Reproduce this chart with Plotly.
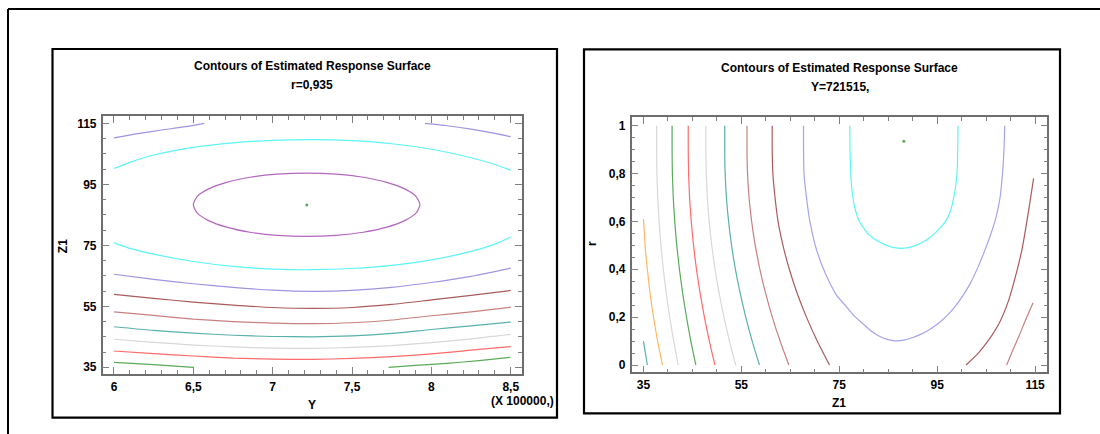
import plotly.graph_objects as go

# ---------------- data ----------------
# Left panel: Y (x 100000) vs Z1 at r = 0.935
left_x_ticks = [6.0, 6.5, 7.0, 7.5, 8.0, 8.5]
left_x_ticktext = ["6", "6,5", "7", "7,5", "8", "8,5"]
left_y_ticks = [35, 55, 75, 95, 115]
left_y_ticktext = ["35", "55", "75", "95", "115"]

left_grid = [6.0, 6.25, 6.5, 6.75, 7.0, 7.25, 7.5, 7.75, 8.0, 8.25, 8.5]
cyan_grid = [6.0, 6.1, 6.25, 6.5, 6.75, 7.0, 7.25, 7.5, 7.75, 8.0, 8.25, 8.4, 8.5]

lav_top_l_y = [6.0, 6.15, 6.3, 6.45, 6.57]
lav_top_l_z = [110.2, 111.6, 112.8, 113.9, 115.0]
lav_top_r_y = [7.96, 8.1, 8.25, 8.4, 8.5]
lav_top_r_z = [115.0, 114.2, 113.1, 111.7, 110.6]
cyan_top_z = [100.2, 102.2, 104.6, 107.1, 108.6, 109.4, 109.65, 109.3, 108.3, 106.5, 103.7, 101.5, 99.6]
cyan_low_z = [75.8, 74.0, 72.1, 69.7, 68.1, 67.2, 67.0, 67.4, 68.4, 70.2, 73.0, 75.4, 77.7]
ellipse_y = [7.928, 7.904, 7.832, 7.719, 7.571, 7.399, 7.214, 7.029, 6.857, 6.709, 6.596, 6.524, 6.500,
             6.524, 6.596, 6.709, 6.857, 7.029, 7.214, 7.399, 7.571, 7.719, 7.832, 7.904, 7.928]
ellipse_z = [88.3, 90.99, 93.5, 95.65, 97.31, 98.35, 98.7, 98.35, 97.31, 95.65, 93.5, 90.99, 88.3,
             85.61, 83.1, 80.95, 79.29, 78.25, 77.9, 78.25, 79.29, 80.95, 83.1, 85.61, 88.3]
lav_low_z = [65.5, 63.8, 62.4, 61.2, 60.3, 59.9, 60.2, 61.2, 62.8, 64.8, 67.5]
brown_low_z = [58.9, 57.6, 56.4, 55.4, 54.6, 54.3, 54.6, 55.6, 57.1, 58.6, 60.2]
rosy_low_z = [53.2, 52.0, 50.8, 50.0, 49.5, 49.3, 49.6, 50.5, 51.9, 53.2, 54.7]
teal_low_z = [48.3, 47.1, 46.2, 45.5, 45.1, 45.0, 45.3, 46.1, 47.4, 48.6, 49.8]
gray_low_z = [44.2, 43.2, 42.3, 41.7, 41.3, 41.2, 41.5, 42.1, 43.1, 44.3, 45.8]
red_low_z = [40.35, 39.5, 38.7, 38.0, 37.7, 37.6, 37.9, 38.5, 39.4, 40.6, 41.8]
green_l_y = [6.0, 6.25, 6.5]
green_l_z = [36.6, 35.9, 35.0]
green_r_y = [7.73, 7.9, 8.1, 8.3, 8.5]
green_r_z = [35.0, 35.6, 36.3, 37.2, 38.3]
left_opt_y = [7.215]
left_opt_z = [88.2]

# Right panel: Z1 vs r at Y = 721515
right_x_ticks = [35, 55, 75, 95, 115]
right_x_ticktext = ["35", "55", "75", "95", "115"]
right_y_ticks = [0, 0.2, 0.4, 0.6, 0.8, 1.0]
right_y_ticktext = ["0", "0,2", "0,4", "0,6", "0,8", "1"]

r_grid = [1.0, 0.9, 0.8, 0.7, 0.6, 0.5, 0.4, 0.3, 0.2, 0.1, 0.0]
gray1_z = [37.7, 37.7, 37.75, 37.92, 38.19, 38.57, 39.06, 39.66, 40.36, 41.18, 42.1]
green_z = [40.85, 40.85, 40.91, 41.09, 41.39, 41.81, 42.35, 43.01, 43.79, 44.68, 45.7]
red_z = [44.15, 44.15, 44.22, 44.42, 44.76, 45.23, 45.83, 46.57, 47.45, 48.46, 49.6]
gray2_z = [47.75, 47.75, 47.83, 48.05, 48.43, 48.95, 49.63, 50.46, 51.44, 52.57, 53.85]
teal_z = [51.6, 51.6, 51.69, 51.95, 52.39, 53.0, 53.79, 54.76, 55.9, 57.21, 58.7]
rosy_z = [56.15, 56.15, 56.26, 56.57, 57.1, 57.84, 58.79, 59.95, 61.32, 62.91, 64.7]
brown_z = [61.3, 61.3, 61.44, 61.88, 62.5, 63.5, 64.8, 66.4, 68.3, 70.5, 73.0]
lav_u_z = [67.7, 67.7, 67.8, 68.3, 69.0, 70.1, 71.4, 72.9, 74.5, 76.4, 78.0, 79.75, 81.5, 83.1, 84.8,
           86.5, 88.2, 89.9, 91.6, 93.3, 95.0, 96.7, 98.4, 100.1, 101.75, 103.36, 104.76, 105.84,
           106.8, 107.4, 107.85, 108.35, 108.65, 108.8]
lav_u_r = [1.0, 0.9, 0.8, 0.7, 0.6, 0.5, 0.42, 0.35, 0.29, 0.245, 0.206, 0.174, 0.142, 0.121, 0.107,
           0.101, 0.104, 0.114, 0.128, 0.146, 0.17, 0.2, 0.238, 0.285, 0.34, 0.41, 0.48, 0.54,
           0.6, 0.65, 0.7, 0.8, 0.9, 1.0]
cyan_u_z = [77.15, 77.2, 77.35, 77.5, 77.8, 78.15, 78.55, 79.1, 79.9, 80.79, 81.99, 83.11, 84.25,
            85.3, 86.2, 87.65,
            89.1, 90.0, 91.05, 92.19, 93.31, 94.51, 95.7, 96.7, 97.45, 97.95, 98.4, 98.8, 99.05,
            99.2, 99.25]
cyan_u_r = [1.0, 0.9, 0.8, 0.75, 0.7, 0.66, 0.63, 0.6, 0.575, 0.55, 0.53, 0.515, 0.503,
            0.495, 0.4905, 0.4877,
            0.4905, 0.495, 0.503, 0.515, 0.53, 0.55, 0.575, 0.6, 0.63, 0.66, 0.7, 0.75, 0.8,
            0.9, 1.0]
brown_right_z = [114.7, 113.8, 112.3, 111.0, 109.6, 107.8, 105.5, 103.4, 100.9]
brown_right_r = [0.78, 0.66, 0.48, 0.37, 0.27, 0.18, 0.104, 0.05, 0.0]
rosy_right_z = [114.6, 113.1, 111.7, 110.4, 109.2]
rosy_right_r = [0.26, 0.19, 0.12, 0.06, 0.0]
orange_z = [35.0, 35.2, 35.4, 35.8, 36.35, 37.05, 37.9, 38.9]
orange_r = [0.61, 0.55, 0.48, 0.4, 0.3, 0.2, 0.1, 0.0]
teal_short_z = [35.0, 35.8]
teal_short_r = [0.1, 0.0]
right_opt_z = [88.2]
right_opt_r = [0.935]

# ---------------- styling ----------------
C_LAV = "#a093e0"
C_LAV2 = "#a3a3ee"
C_CYAN = "#5cf5f5"
C_PURPLE = "#b466c0"
C_BROWN = "#ab5a5a"
C_ROSY = "#c88080"
C_TEAL = "#5ab0aa"
C_GRAY = "#d8d8d8"
C_RED = "#ff6a6a"
C_GREEN = "#5aaa5a"
C_ORANGE = "#ffb766"

FONT = "Liberation Sans, Arial, sans-serif"
W, H = 1100, 434

fig = go.Figure()


def add_line(x, y, color, xa="x", ya="y"):
    fig.add_trace(go.Scatter(x=x, y=y, mode="lines", xaxis=xa, yaxis=ya,
                             line=dict(color=color, width=1.2, shape="spline", smoothing=0.6),
                             hoverinfo="skip", showlegend=False))


# left panel
add_line(lav_top_l_y, lav_top_l_z, C_LAV)
add_line(lav_top_r_y, lav_top_r_z, C_LAV)
add_line(cyan_grid, cyan_top_z, C_CYAN)
add_line(ellipse_y, ellipse_z, C_PURPLE)
add_line(cyan_grid, cyan_low_z, C_CYAN)
add_line(left_grid, lav_low_z, C_LAV)
add_line(left_grid, brown_low_z, C_BROWN)
add_line(left_grid, rosy_low_z, C_ROSY)
add_line(left_grid, teal_low_z, C_TEAL)
add_line(left_grid, gray_low_z, C_GRAY)
add_line(left_grid, red_low_z, C_RED)
add_line(green_l_y, green_l_z, C_GREEN)
add_line(green_r_y, green_r_z, C_GREEN)
fig.add_trace(go.Scatter(x=left_opt_y, y=left_opt_z, mode="markers", xaxis="x", yaxis="y",
                         marker=dict(color=C_GREEN, size=3), hoverinfo="skip", showlegend=False))

# right panel
add_line(teal_short_z, teal_short_r, C_TEAL, "x2", "y2")
add_line(orange_z, orange_r, C_ORANGE, "x2", "y2")
add_line(gray1_z, r_grid, C_GRAY, "x2", "y2")
add_line(green_z, r_grid, C_GREEN, "x2", "y2")
add_line(red_z, r_grid, C_RED, "x2", "y2")
add_line(gray2_z, r_grid, C_GRAY, "x2", "y2")
add_line(teal_z, r_grid, C_TEAL, "x2", "y2")
add_line(rosy_z, r_grid, C_ROSY, "x2", "y2")
add_line(brown_z, r_grid, C_BROWN, "x2", "y2")
add_line(lav_u_z, lav_u_r, C_LAV2, "x2", "y2")
add_line(cyan_u_z, cyan_u_r, C_CYAN, "x2", "y2")
add_line(brown_right_z, brown_right_r, C_BROWN, "x2", "y2")
add_line(rosy_right_z, rosy_right_r, C_ROSY, "x2", "y2")
fig.add_trace(go.Scatter(x=right_opt_z, y=right_opt_r, mode="markers", xaxis="x2", yaxis="y2",
                         marker=dict(color=C_GREEN, size=3), hoverinfo="skip", showlegend=False))

AX_LINE = "#6e6e6e"
TICK_C = "#808080"


def ax(domain, rng, tickvals, ticktext, minor_dtick, minor_tick0):
    return dict(domain=domain, range=rng, tickmode="array", tickvals=tickvals, ticktext=ticktext,
                showgrid=False, zeroline=False, showline=True, linecolor=AX_LINE, linewidth=1.5,
                mirror="allticks", ticks="inside", ticklen=7, tickwidth=1, tickcolor=TICK_C,
                tickfont=dict(family=FONT, size=12, color="black", weight="bold"),
                minor=dict(ticks="inside", ticklen=4, tickwidth=1, tickcolor=TICK_C,
                           dtick=minor_dtick, tick0=minor_tick0, showgrid=False),
                fixedrange=True)


def px2x(p):
    return p / W


def px2y(p):
    return 1 - p / H


fig.update_layout(
    width=W, height=H, margin=dict(l=0, r=0, t=0, b=0),
    paper_bgcolor="white", plot_bgcolor="white", showlegend=False,
    xaxis=dict(**ax([px2x(102.7), px2x(522)], [5.929, 8.571], left_x_ticks, left_x_ticktext, 0.1, 6.0),
               anchor="y", ticklabelstandoff=1),
    yaxis=dict(**ax([px2y(374), px2y(116)], [32.8, 117.4], left_y_ticks, left_y_ticktext, 5, 35),
               anchor="x", ticklabelstandoff=2),
    xaxis2=dict(**ax([px2x(631.7), px2x(1047.3)], [32.6, 117.5], right_x_ticks, right_x_ticktext, 5, 35),
                anchor="y2", ticklabelstandoff=1),
    yaxis2=dict(**ax([px2y(372.3), px2y(117.3)], [-0.0305, 1.035], right_y_ticks, right_y_ticktext, 0.05, 0),
                anchor="x2", ticklabelstandoff=2),
)

# frames (outer frame and panel boxes)
shapes = [
    dict(type="line", xref="paper", yref="paper", x0=px2x(8), x1=px2x(1100), y0=px2y(9), y1=px2y(9),
         line=dict(color="black", width=2)),
    dict(type="line", xref="paper", yref="paper", x0=px2x(8), x1=px2x(8), y0=px2y(9), y1=px2y(434),
         line=dict(color="black", width=2)),
    dict(type="rect", xref="paper", yref="paper", x0=px2x(52.5), x1=px2x(557), y0=px2y(49), y1=px2y(417.7),
         line=dict(color="black", width=2.2)),
    dict(type="rect", xref="paper", yref="paper", x0=px2x(584), x1=px2x(1060), y0=px2y(49.3), y1=px2y(413.3),
         line=dict(color="black", width=2.2)),
]
fig.update_layout(shapes=shapes)


def txt(text, x, y, angle=0, xanchor="center"):
    fig.add_annotation(text=text, x=px2x(x), y=px2y(y), xref="paper", yref="paper",
                       showarrow=False, xanchor=xanchor, yanchor="middle", textangle=angle,
                       font=dict(family=FONT, size=12, color="black", weight="bold"))


txt("Contours of Estimated Response Surface", 312.4, 66)
txt("r=0,935", 312.4, 84.5)
txt("Contours of Estimated Response Surface", 839.5, 67.7)
txt("Y=721515,", 839.5, 87)
txt("Z1", 62.5, 246.7, angle=-90)
txt("Y", 311.8, 405)
txt("(X 100000,)", 522, 400.5)
txt("r", 592.7, 243.3, angle=-90)
txt("Z1", 839, 403.3)

fig.write_html("out.html")
